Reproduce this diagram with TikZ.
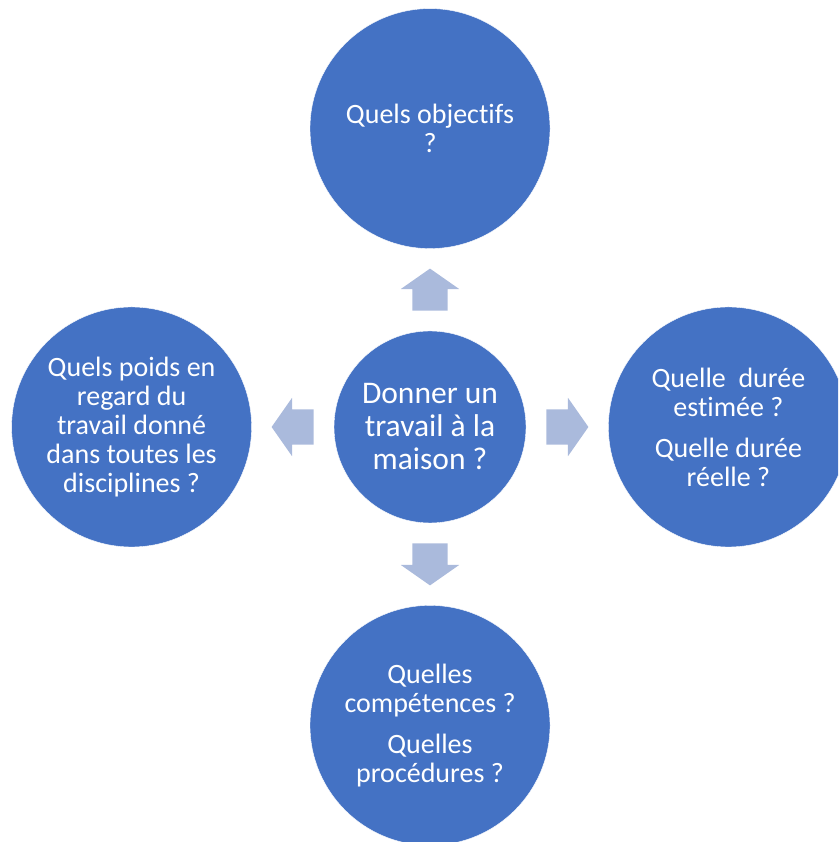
\documentclass[tikz,border=0pt]{standalone}
\usepackage{xcolor}
\usepackage{fontspec}
\setmainfont{Carlito}[Ligatures=NoCommon]
\usetikzlibrary{positioning,calc,shapes.arrows}
\definecolor{circblue}{RGB}{68,114,196}
\definecolor{arrblue}{RGB}{170,186,220}

\begin{document}
\begin{tikzpicture}[x=1pt, y=1pt, node distance={82pt},
    main/.style = {draw=white, circle, fill=circblue, text=white, minimum size=240pt, inner sep=0pt, align=center, font=\fontsize{28}{29}\selectfont},
    big/.style = {main, minimum size=192pt, font=\fontsize{31.5}{33}\selectfont},
    arr/.style = {single arrow, fill=arrblue, inner xsep=0pt, inner ysep=17.5pt, minimum height=42pt, single arrow head extend=11.5pt, single arrow tip angle=110, anchor=tail}]
    \clip (0,0) rectangle (838,842);
    \node[big] (C) at (430,415) {Donner un\\travail à la\\maison ?};
    \node[main] (T) [above=of C] {Quels objectifs\\?};
    \node[main] (L) [left=of C] {Quels poids en\\regard du\\travail donné\\dans toutes les\\disciplines ?};
    \node[main] (R) [right=of C] {Quelle\ \ durée\\estimée ?\\[12pt]Quelle durée\\réelle ?};
    \node[main] (B) [below=of C] {Quelles\\compétences ?\\[12pt]Quelles\\procédures ?};
    \node[arr, rotate=90] (aT) at ($(C.north)+(0,20)$) {};
    \node[arr, rotate=180] (aL) at ($(C.west)+(-20,0)$) {};
    \node[arr] (aR) at ($(C.east)+(20,0)$) {};
    \node[arr, rotate=270] (aB) at ($(C.south)+(0,-20)$) {};
\end{tikzpicture}
\end{document}
